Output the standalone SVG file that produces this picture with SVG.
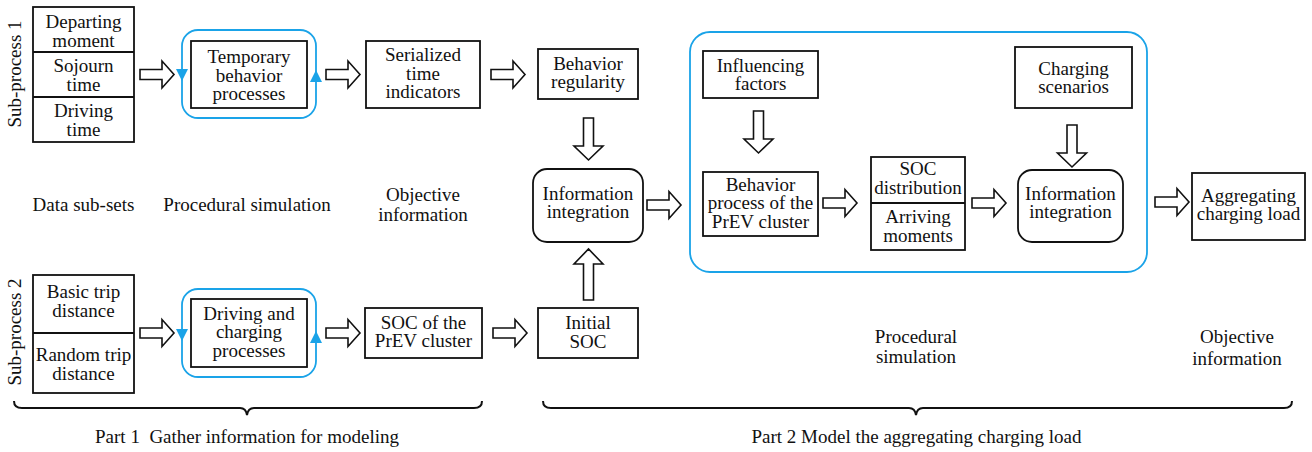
<svg xmlns="http://www.w3.org/2000/svg" width="1312" height="452" viewBox="0 0 1312 452">
  <style>
    text { font-family: "Liberation Serif", "Times New Roman", serif; font-size: 19px; fill: #111; text-anchor: middle; }
    .box { fill: #fff; stroke: #111; stroke-width: 1.8; }
    .loop { fill: none; stroke: #1aa3e8; stroke-width: 1.8; }
    .tri { fill: #1aa3e8; stroke: none; }
    .arrow { fill: #fff; stroke: #111; stroke-width: 1.6; stroke-linejoin: miter; }
    .brace { fill: none; stroke: #111; stroke-width: 2; }
  </style>
  <defs>
    <!-- hollow block arrow pointing right, 34 long, origin at tail centre -->
    <path id="ar" d="M0,-5 H22 V-13.5 L34,0 L22,13.5 V5 H0 Z"/>
    <!-- hollow block arrow pointing down, 42 long, origin at tail centre -->
    <path id="ad" d="M-5,0 V28 H-14.5 L0,42 L14.5,28 H5 V0 Z"/>
  </defs>

  <rect width="1312" height="452" fill="#fff"/>

  <!-- side labels -->
  <text transform="translate(21,74) rotate(-90)">Sub-process 1</text>
  <text transform="translate(21,332) rotate(-90)">Sub-process 2</text>

  <!-- Sub-process 1: data sub-sets -->
  <g id="subsets1">
    <rect class="box" x="33" y="7" width="101" height="135"/>
    <line class="box" x1="33" y1="52" x2="134" y2="52"/>
    <line class="box" x1="33" y1="97" x2="134" y2="97"/>
    <text x="83.5" y="28">Departing</text>
    <text x="83.5" y="47">moment</text>
    <text x="83.5" y="72">Sojourn</text>
    <text x="83.5" y="91">time</text>
    <text x="83.5" y="117">Driving</text>
    <text x="83.5" y="136">time</text>
  </g>

  <g id="temporary-behavior">
    <rect class="loop" x="182" y="30" width="134" height="88" rx="16"/>
    <polygon class="tri" points="176,69 188,69 182,81"/>
    <polygon class="tri" points="310,82 322,82 316,70"/>
    <rect class="box" x="191" y="41" width="116" height="67"/>
    <text x="249" y="63">Temporary</text>
    <text x="249" y="82">behavior</text>
    <text x="249" y="100">processes</text>
  </g>

  <g id="serialized-time">
    <rect class="box" x="366" y="41" width="114" height="67"/>
    <text x="423" y="61">Serialized</text>
    <text x="423" y="80">time</text>
    <text x="423" y="98">indicators</text>
  </g>

  <g id="behavior-regularity">
    <rect class="box" x="538" y="49" width="100" height="50"/>
    <text x="588" y="70">Behavior</text>
    <text x="588" y="88">regularity</text>
  </g>

  <!-- column captions -->
  <text x="83.5" y="211">Data sub-sets</text>
  <text x="247" y="211">Procedural simulation</text>
  <text x="423" y="201">Objective</text>
  <text x="423" y="221">information</text>

  <g id="info-integration-1">
    <rect class="box" x="533" y="169" width="110" height="73" rx="14"/>
    <text x="588" y="200">Information</text>
    <text x="588" y="218">integration</text>
  </g>

  <!-- Sub-process 2 -->
  <g id="subsets2">
    <rect class="box" x="33" y="275" width="101" height="118"/>
    <line class="box" x1="33" y1="333" x2="134" y2="333"/>
    <text x="83.5" y="298">Basic trip</text>
    <text x="83.5" y="317">distance</text>
    <text x="83.5" y="361">Random trip</text>
    <text x="83.5" y="380">distance</text>
  </g>

  <g id="driving-charging">
    <rect class="loop" x="182" y="289" width="134" height="88" rx="16"/>
    <polygon class="tri" points="176,329 188,329 182,341"/>
    <polygon class="tri" points="310,343 322,343 316,331"/>
    <rect class="box" x="191" y="299" width="116" height="68"/>
    <text x="249" y="320">Driving and</text>
    <text x="249" y="338">charging</text>
    <text x="249" y="357">processes</text>
  </g>

  <g id="soc-cluster">
    <rect class="box" x="365" y="308" width="117" height="50"/>
    <text x="423.5" y="329">SOC of the</text>
    <text x="423.5" y="347">PrEV cluster</text>
  </g>

  <g id="initial-soc">
    <rect class="box" x="538" y="308" width="100" height="50"/>
    <text x="588" y="329">Initial</text>
    <text x="588" y="348">SOC</text>
  </g>

  <!-- Part 2 frame -->
  <g id="part2-frame">
    <rect class="loop" x="690" y="32" width="457" height="240" rx="20"/>
  </g>

  <g id="influencing-factors">
    <rect class="box" x="703" y="51" width="115" height="47"/>
    <text x="760.5" y="72">Influencing</text>
    <text x="760.5" y="90">factors</text>
  </g>

  <g id="behavior-process">
    <rect class="box" x="703" y="172" width="115" height="64"/>
    <text x="760.5" y="191">Behavior</text>
    <text x="760.5" y="209">process of the</text>
    <text x="760.5" y="228">PrEV cluster</text>
  </g>

  <g id="soc-arriving">
    <rect class="box" x="871" y="157" width="94" height="93"/>
    <line class="box" x1="871" y1="203" x2="965" y2="203"/>
    <text x="918" y="175">SOC</text>
    <text x="918" y="194">distribution</text>
    <text x="918" y="223">Arriving</text>
    <text x="918" y="242">moments</text>
  </g>

  <g id="charging-scenarios">
    <rect class="box" x="1015" y="47" width="117" height="61"/>
    <text x="1073.5" y="75">Charging</text>
    <text x="1073.5" y="93">scenarios</text>
  </g>

  <g id="info-integration-2">
    <rect class="box" x="1018" y="170" width="105" height="72" rx="14"/>
    <text x="1070.5" y="200">Information</text>
    <text x="1070.5" y="218">integration</text>
  </g>

  <g id="aggregating-load">
    <rect class="box" x="1192" y="173" width="113" height="67"/>
    <text x="1248.5" y="202">Aggregating</text>
    <text x="1248.5" y="220">charging load</text>
  </g>

  <!-- lower captions -->
  <text x="916" y="343">Procedural</text>
  <text x="916" y="363">simulation</text>
  <text x="1237" y="343">Objective</text>
  <text x="1237" y="365">information</text>

  <!-- connectors -->
  <g id="connectors">
    <use href="#ar" class="arrow" transform="translate(140,74.5)"/>
    <use href="#ar" class="arrow" transform="translate(326,74.5)"/>
    <use href="#ar" class="arrow" transform="translate(491,74.5)"/>
    <use href="#ar" class="arrow" transform="translate(140,333)"/>
    <use href="#ar" class="arrow" transform="translate(326,333)"/>
    <use href="#ar" class="arrow" transform="translate(493,333)"/>
    <use href="#ar" class="arrow" transform="translate(647,205)"/>
    <use href="#ar" class="arrow" transform="translate(823,203)"/>
    <use href="#ar" class="arrow" transform="translate(972,203)"/>
    <use href="#ar" class="arrow" transform="translate(1155,202)"/>
    <use href="#ad" class="arrow" transform="translate(588.5,118)"/>
    <use href="#ad" class="arrow" transform="translate(758.5,111)"/>
    <use href="#ad" class="arrow" transform="translate(1072,125)"/>
    <path class="arrow" d="M583.5,300 V264 H574 L588.5,249 L603,264 H593.5 V300 Z"/>
  </g>

  <!-- braces and part titles -->
  <path class="brace" d="M14,401 Q14,408 22,408 H240 Q246,408 247,415 Q248,408 254,408 H474 Q482,408 482,401"/>
  <path class="brace" d="M543,401 Q543,408 551,408 H909 Q915,408 916,415 Q917,408 923,408 H1284 Q1292,408 1292,401"/>
  <text x="247" y="443">Part 1&#160; Gather information for modeling</text>
  <text x="916.5" y="443">Part 2 Model the aggregating charging load</text>
</svg>
